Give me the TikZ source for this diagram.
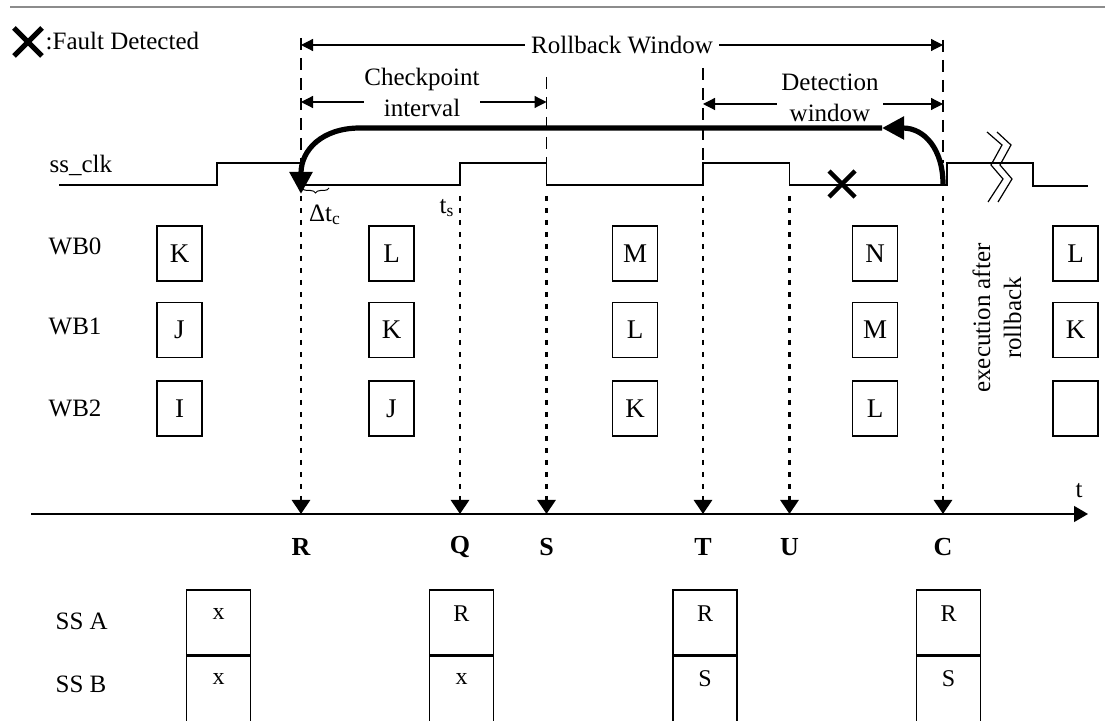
\documentclass[tikz,border=0pt]{standalone}
\usepackage{fontspec}
\setmainfont{Liberation Serif}
\usetikzlibrary{arrows.meta,decorations.pathreplacing,positioning}

\begin{document}
\begin{tikzpicture}[x=0.5pt,y=-0.5pt,line width=0.7pt,every node/.append style={inner sep=0pt,font=\fontsize{12.5}{15.5}\selectfont}]
    \tikzstyle{guide}=[line width=0.6pt, dash pattern=on 6pt off 4pt]
    \tikzstyle{drop}=[line width=1.4pt, dash pattern=on 2.5pt off 3.5pt, -{Triangle[length=7pt,width=9pt]}]
    \tikzstyle{dim}=[line width=0.6pt, {Triangle[length=6pt,width=6pt]}-{Triangle[length=6pt,width=6pt]}]
    \tikzstyle{back}=[line width=2.6pt, -{Triangle[length=11pt,width=11pt]}]
    \tikzstyle{axis}=[line width=0.7pt, -{Triangle[length=7pt,width=8pt]}]
    \tikzstyle{cross}=[line width=2.2pt]
    \tikzstyle{wbcell}=[draw, line width=0.7pt, minimum width=22.5pt, minimum height=27.5pt, font=\fontsize{13.5}{15}\selectfont]
    \tikzstyle{sscell}=[draw, line width=0.7pt, minimum width=32pt, minimum height=32.5pt]
    \tikzstyle{tick}=[font=\fontsize{13}{15}\selectfont\bfseries]
    \tikzstyle{small}=[font=\fontsize{12}{14}\selectfont]
    \useasboundingbox (0,0) rectangle (1115,721);
    \clip (0,0) rectangle (1115,721);
    \draw[black!45, line width=0.8pt] (10,7) -- (1105,7);
    % legend
    \draw[cross, line width=2.6pt] (14,28) -- (42,56) (14,56) -- (42,28);
    \node[anchor=west] (legend) at (45,41) {:Fault Detected};
    % clock
    \node[anchor=west] (clk) at (49,165) {ss\_clk};
    \draw (59,185) -- (217,185) -- (217,163) -- (301,163) -- (301,185) -- (460,185) -- (460,163)
        -- (546.5,163) -- (546.5,185) -- (703,185) -- (703,163) -- (789.5,163) -- (789.5,185)
        -- (947,185) -- (947,163) -- (1033,163) -- (1033,186) -- (1088,186);
    \draw[line width=0.6pt] (987,132) -- (1002,145) -- (991,165) -- (1003,179) -- (988,202);
    \draw[line width=0.6pt] (997,132) -- (1011,145) -- (1000,165) -- (1012,179) -- (998,202);
    \draw[cross] (829,171) -- (855,197) (829,197) -- (855,171);
    \draw[decorate, decoration={brace, amplitude=2.5pt}, line width=0.5pt] (329,188) -- (302,188);
    \node (dtc) at (325,215) {Δt\textsubscript{c}};
    \node (ts) at (447,208) {t\textsubscript{s}};
    % windows
    \foreach \x/\top/\bot in {301/38/163, 546.5/77/163, 703/68/163, 943/40/163}
        \draw[guide] (\x,\top) -- (\x,\bot);
    \coordinate (rw0) at (301,45);
    \coordinate (rw1) at (943,45);
    \draw[dim] (rw0) -- node[fill=white, inner xsep=3pt] (rwl) {Rollback Window} (rw1);
    \coordinate (ci0) at (301,102);
    \coordinate (ci1) at (546.5,102);
    \draw[dim] (ci0) -- (ci1);
    \node[fill=white, align=center] (cil) at (422,92.5) {Checkpoint\\interval};
    \coordinate (dw0) at (703,104);
    \coordinate (dw1) at (943,104);
    \draw[dim] (dw0) -- (dw1);
    \node[fill=white, inner xsep=2pt, align=center] (dwl) at (830,97.5) {Detection\\window};
    % rollback
    \coordinate (rbC) at (943,184);
    \coordinate (rbK) at (882,128);
    \coordinate (rbL) at (360,128);
    \coordinate (rbR) at (301,194);
    \draw[back] (rbC) .. controls (943,150) and (925,128) .. (rbK);
    \draw[back] (rbK) -- (rbL) .. controls (322,128) and (301,150) .. (rbR);
    % write buffers
    \foreach \i/\y in {0/246,1/326,2/408}
        \node[anchor=west] (wb\i) at (48,\y) {WB\i};
    \foreach \col/\x/\a/\b/\c in {1/179.5/K/J/I, 2/391.5/L/K/J, 3/635/M/L/K, 4/875/N/M/L, 5/1075.5/L/K/{}} {
        \node[wbcell] (w0\col) at (\x,253.5) {\a};
        \node[wbcell] (w1\col) at (\x,330) {\b};
        \node[wbcell] (w2\col) at (\x,408.5) {\c};
    }
    \node[rotate=90, align=center] (exe) at (997,318) {execution after\\rollback};
    % time axis
    \coordinate (t0) at (31,514);
    \coordinate (t1) at (1088,514);
    \draw[axis] (t0) -- (t1);
    \node (tl) at (1079,491) {t};
    \foreach \n/\x in {R/301,Q/460,S/546.5,T/703,U/789.5,C/943} {
        \coordinate (c\n) at (\x,196);
        \coordinate (a\n) at (\x,514);
        \node[tick] (l\n) at (\x,547) {\n};
        \draw[drop] (c\n) -- (a\n);
    }
    % shadow state
    \node[anchor=west] (ssa) at (55,621) {SS A};
    \node[anchor=west] (ssb) at (55,684) {SS B};
    \foreach \i/\x/\a/\b in {1/218.5/x/x, 2/461.5/R/x, 3/705/R/S, 4/948.5/R/S} {
        \node[sscell] (sa\i) at (\x,622.5) {};
        \node[sscell, below=0pt of sa\i] (sb\i) {};
        \node[small] at (\x,614) {\a};
        \node[small] at (\x,679) {\b};
    }
\end{tikzpicture}
\end{document}
